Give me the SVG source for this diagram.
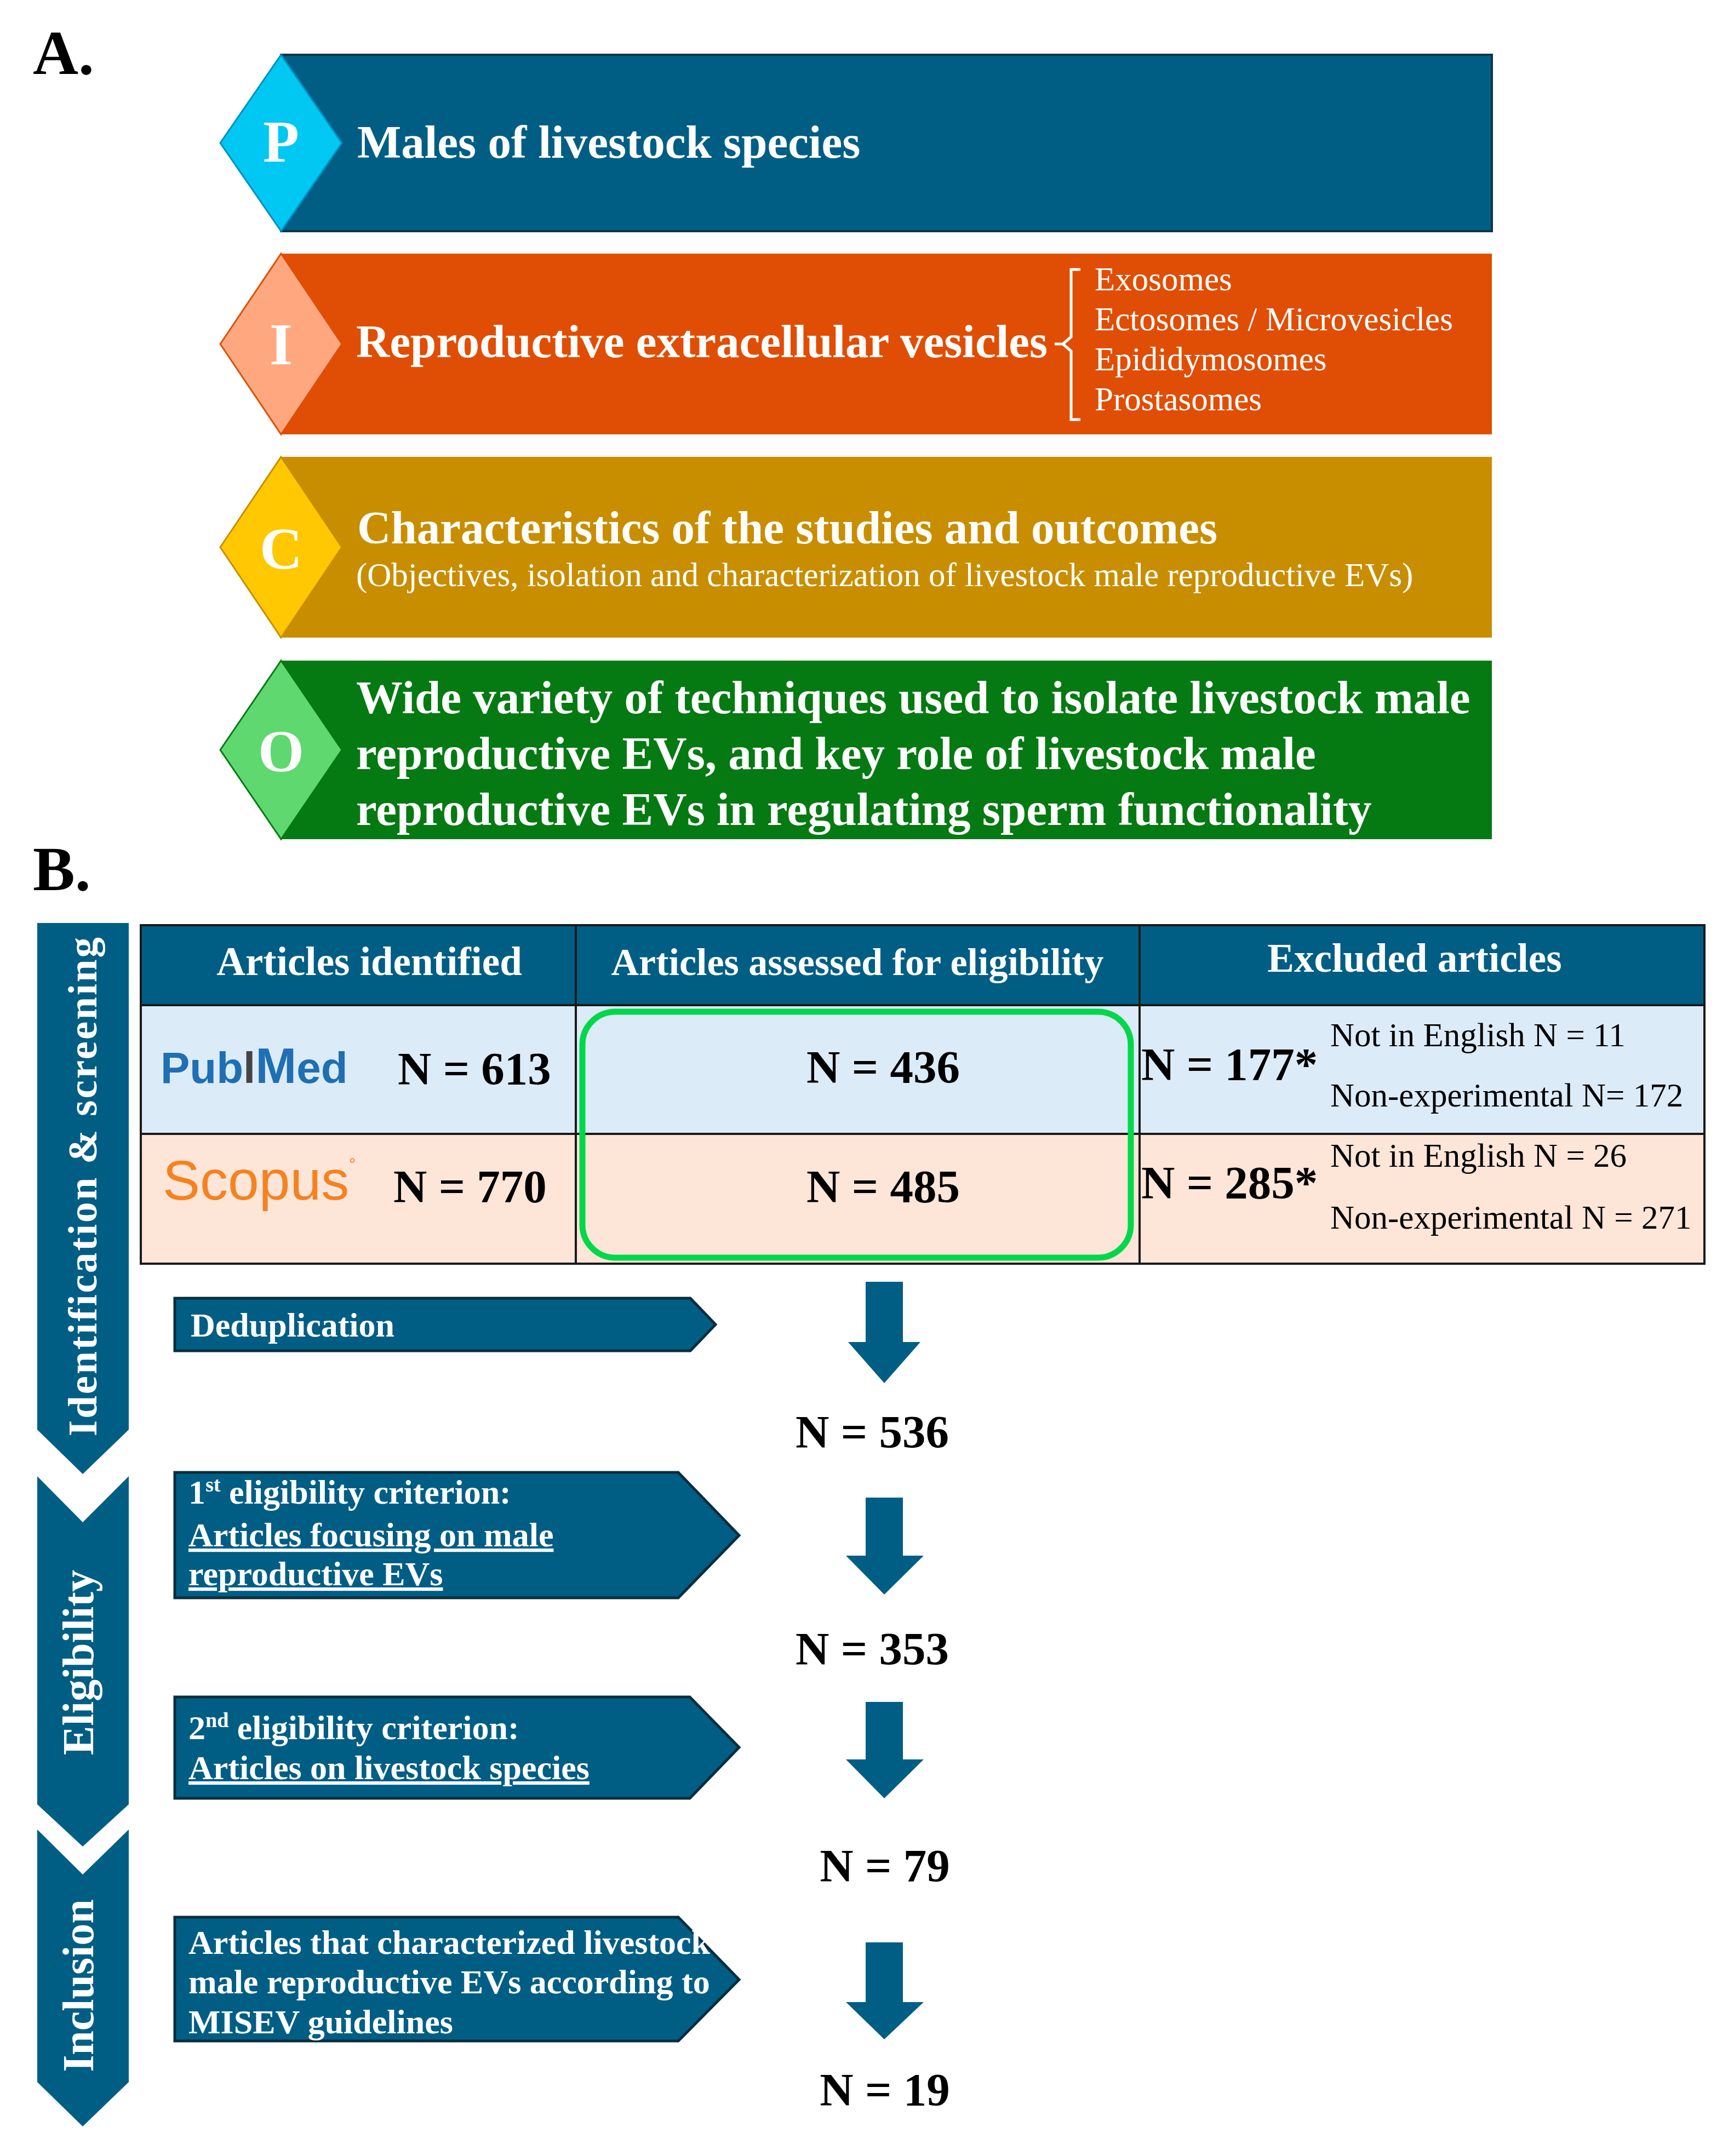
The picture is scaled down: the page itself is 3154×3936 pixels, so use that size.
<svg xmlns="http://www.w3.org/2000/svg" width="3154" height="3936" viewBox="0 0 3154 3936">
<style>
text{font-family:"Liberation Serif","Times New Roman",serif}
text.sans{font-family:"Liberation Sans",Arial,sans-serif}
.b{font-weight:bold}
.w{fill:#fff}
.k{fill:#000}
.t{font-size:85px;font-weight:bold;fill:#fff}
.s{font-size:61px;fill:#fff}
.n{font-size:85px;font-weight:bold;fill:#000}
.ex{font-size:61px;fill:#000}
.bx{font-size:62px;font-weight:bold;fill:#fff}
.box{fill:#005e85;stroke:#0b2d3d;stroke-width:5}
.dk{fill:#005e85}
</style>
<rect width="3154" height="3936" fill="#fff"/>
<text x="60" y="135" class="b k" font-size="115">A.</text>
<text x="60" y="1625" class="b k" font-size="115">B.</text>

<g id="P">
<rect x="513" y="100" width="2210" height="322" fill="#005e85" stroke="#0b3550" stroke-width="4"/>
<polygon points="402,261 513,100 624,261 513,422" fill="#00c8f2" stroke="#0090c0" stroke-width="3"/>
<text x="513" y="295" class="w b" font-size="108" text-anchor="middle">P</text>
<text x="652" y="288" class="t">Males of livestock species</text>
</g>
<g id="I">
<rect x="513" y="463" width="2210" height="330" fill="#e04e05"/>
<polygon points="402,628 513,463 624,628 513,793" fill="#ffa880" stroke="#e04e05" stroke-width="3"/>
<text x="513" y="665" class="w b" font-size="108" text-anchor="middle">I</text>
<text x="650" y="652" class="t">Reproductive extracellular vesicles</text>
<path d="M1972,492 H1955 V615 L1940,628 L1955,641 V766 H1972 M1925,628 H1940" fill="none" stroke="#fff" stroke-width="5"/>
<text x="1998" y="530" class="s">Exosomes</text>
<text x="1998" y="603" class="s">Ectosomes / Microvesicles</text>
<text x="1998" y="676" class="s">Epididymosomes</text>
<text x="1998" y="749" class="s">Prostasomes</text>
</g>
<g id="C">
<rect x="513" y="834" width="2210" height="330" fill="#c88e00"/>
<polygon points="402,999 513,834 624,999 513,1164" fill="#ffc800" stroke="#c88e00" stroke-width="3"/>
<text x="513" y="1038" class="w b" font-size="108" text-anchor="middle">C</text>
<text x="652" y="992" class="t">Characteristics of the studies and outcomes</text>
<text x="650" y="1070" class="s" font-size="58">(Objectives, isolation and characterization of livestock male reproductive EVs)</text>
</g>
<g id="O">
<rect x="513" y="1206" width="2210" height="326" fill="#057a12"/>
<polygon points="402,1369 513,1206 624,1369 513,1532" fill="#5fd96f" stroke="#057a12" stroke-width="3"/>
<text x="513" y="1408" class="w b" font-size="108" text-anchor="middle">O</text>
<text x="650" y="1302" class="t">Wide variety of techniques used to isolate livestock male</text>
<text x="650" y="1404" class="t">reproductive EVs, and key role of livestock male</text>
<text x="650" y="1506" class="t">reproductive EVs in regulating sperm functionality</text>
</g>

<g id="phases">
<polygon points="68,1685 235,1685 235,2610 151,2691 68,2610" class="dk"/>
<text transform="translate(176,2165) rotate(-90)" class="w b" font-size="75" text-anchor="middle" letter-spacing="3">Identification &amp; screening</text>
<polygon points="68,2695 151,2779 235,2695 235,3294 151,3371 68,3294" class="dk"/>
<text transform="translate(170,3035) rotate(-90)" class="w b" font-size="80" text-anchor="middle">Eligibility</text>
<polygon points="68,3340 151,3422 235,3340 235,3801 151,3882 68,3801" class="dk"/>
<text transform="translate(170,3625) rotate(-90)" class="w b" font-size="80" text-anchor="middle">Inclusion</text>
</g>

<g id="table">
<rect x="257" y="1689" width="2854" height="146" fill="#005e85"/>
<rect x="257" y="1835" width="2854" height="235" fill="#dcebf8"/>
<rect x="257" y="2070" width="2854" height="237" fill="#fde5d8"/>
<g stroke="#1a1a1a" stroke-width="4" fill="none">
<rect x="257" y="1689" width="2854" height="618"/>
<line x1="257" y1="1835" x2="3111" y2="1835"/>
<line x1="257" y1="2070" x2="3111" y2="2070"/>
<line x1="1051" y1="1689" x2="1051" y2="2307"/>
<line x1="2080" y1="1689" x2="2080" y2="2307"/>
</g>
<text x="674" y="1780" class="w b" font-size="73" text-anchor="middle">Articles identified</text>
<text x="1565" y="1780" class="w b" font-size="70" text-anchor="middle">Articles assessed for eligibility</text>
<text x="2582" y="1774" class="w b" font-size="73" text-anchor="middle">Excluded articles</text>
<text x="293" y="1977" class="sans" font-weight="bold" font-size="80" fill="#1f6fb2">Pub<tspan fill="#444">l</tspan><tspan font-size="90">M</tspan>ed</text>
<text x="726" y="1980" class="n">N = 613</text>
<text x="297" y="2190" class="sans" font-size="102" fill="#f58220">Scopus<tspan font-size="30" dy="-55">°</tspan></text>
<text x="718" y="2195" class="n">N = 770</text>
<rect x="1063" y="1847" width="1001" height="449" rx="60" fill="none" stroke="#00d84a" stroke-width="11"/>
<text x="1612" y="1977" class="n" text-anchor="middle">N = 436</text>
<text x="1612" y="2195" class="n" text-anchor="middle">N = 485</text>
<text x="2083" y="1972" class="n">N = 177*</text>
<text x="2083" y="2188" class="n">N = 285*</text>
<text x="2428" y="1910" class="ex">Not in English N = 11</text>
<text x="2428" y="2020" class="ex">Non-experimental N= 172</text>
<text x="2428" y="2130" class="ex">Not in English N = 26</text>
<text x="2428" y="2243" class="ex">Non-experimental N = 271</text>
</g>

<g id="steps">
<polygon points="319,2370 1260,2370 1306,2418 1260,2466 319,2466" class="box"/>
<text x="348" y="2440" class="bx" font-size="60">Deduplication</text>
<polygon points="319,2688 1238,2688 1349,2803 1238,2917 319,2917" class="box"/>
<text x="344" y="2745" class="bx">1<tspan font-size="38" dy="-22">st</tspan><tspan dy="22"> eligibility criterion:</tspan></text>
<text x="344" y="2823" class="bx" text-decoration="underline">Articles focusing on male</text>
<text x="344" y="2894" class="bx" text-decoration="underline">reproductive EVs</text>
<polygon points="319,3098 1259,3098 1349,3190 1259,3283 319,3283" class="box"/>
<text x="344" y="3175" class="bx">2<tspan font-size="38" dy="-22">nd</tspan><tspan dy="22"> eligibility criterion:</tspan></text>
<text x="344" y="3248" class="bx" text-decoration="underline">Articles on livestock species</text>
<polygon points="319,3500 1238,3500 1349,3614 1238,3726 319,3726" class="box"/>
<text x="344" y="3567" class="bx" font-size="64">Articles that characterized livestock</text>
<text x="344" y="3639" class="bx" font-size="64">male reproductive EVs according to</text>
<text x="344" y="3712" class="bx" font-size="64">MISEV guidelines</text>
<text x="1592" y="2643" class="n" text-anchor="middle">N = 536</text>
<text x="1592" y="3039" class="n" text-anchor="middle">N = 353</text>
<text x="1615" y="3435" class="n" text-anchor="middle">N = 79</text>
<text x="1615" y="3844" class="n" text-anchor="middle">N = 19</text>
</g>

<g id="connectors" class="dk">
<polygon points="1580,2340 1648,2340 1648,2450 1680,2450 1614,2525 1548,2450 1580,2450"/>
<polygon points="1580,2734 1648,2734 1648,2840 1686,2840 1614,2911 1544,2840 1580,2840"/>
<polygon points="1580,3107 1648,3107 1648,3212 1686,3212 1614,3283 1544,3212 1580,3212"/>
<polygon points="1580,3546 1648,3546 1648,3655 1686,3655 1614,3723 1544,3655 1580,3655"/>
</g>
</svg>
